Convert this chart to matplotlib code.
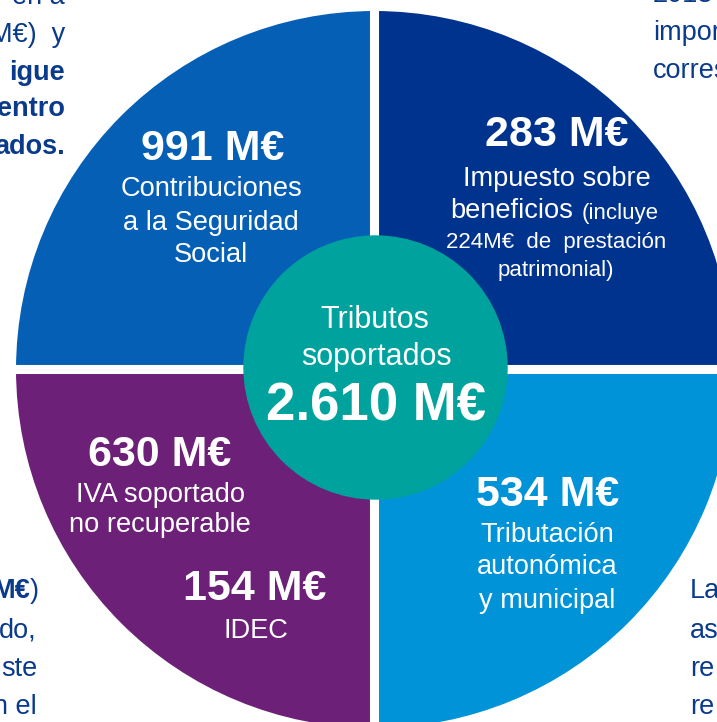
import matplotlib
matplotlib.use("Agg")
import matplotlib.pyplot as plt
from matplotlib.patches import Circle

plt.rcParams["font.family"] = ["Liberation Sans", "DejaVu Sans"]

# data: quadrant order = top-right, top-left, bottom-left, bottom-right
amounts = [283, 991, 630, 534]
idec = 154
total = 2610
concepts = [
    ["Impuesto sobre"],
    ["Contribuciones", "a la Seguridad", "Social"],
    ["IVA soportado", "no recuperable"],
    ["Tributación", "autonómica", "y municipal"],
]
colors = ["#00338D", "#0560B5", "#6C2077", "#0093D8"]
teal = "#00A29D"
navy = "#0A3A8C"

W, H = 717, 722


def eur(v):
    return f"{v:,}".replace(",", ".") + " M€"


def Y(y):
    # pixel row (top down) -> axes y (bottom up)
    return H - y


def T(y):
    # same for text, small nudge for va="center"
    return H - y - 2.5


fig = plt.figure(figsize=(W / 100, H / 100), dpi=100)
ax = fig.add_axes([0, 0, 1, 1])

cx, cy, R = 374.5, Y(369.5), 363
ax.pie([1, 1, 1, 1], colors=colors, startangle=0, counterclock=True,
       center=(cx, cy), radius=R,
       wedgeprops=dict(edgecolor="white", linewidth=6.5))
ax.add_patch(Circle((375.5, Y(367.5)), 131.5, color=teal, zorder=3))

ax.set_xlim(0, W)
ax.set_ylim(0, H)
ax.set_aspect("equal")
ax.axis("off")

big = dict(color="white", fontsize=31, fontweight="bold", ha="center", va="center", zorder=5)
mid = dict(color="white", fontsize=19.6, ha="center", va="center", zorder=5)
small = dict(color="white", fontsize=16, ha="center", va="center", zorder=5)

# top-right
ax.text(557, T(132), eur(amounts[0]), **big)
ax.text(557, T(176), concepts[0][0], **mid)
ax.text(573, T(209), "beneficios", **{**mid, "ha": "right"})
ax.text(582, T(211), "(incluye", **{**small, "ha": "left"})
ax.text(556, T(240), "224M€  de  prestación", **small)
ax.text(556, T(268), "patrimonial)", **small)

# top-left
ax.text(213, T(147), eur(amounts[1]), **big)
for y, s in zip([187, 220, 252], concepts[1]):
    ax.text(211, T(y), s, **mid)

# bottom-left
ax.text(160, T(452), eur(amounts[2]), **big)
for y, s in zip([492, 522], concepts[2]):
    ax.text(160, T(y), s, **mid)
ax.text(255, T(587), eur(idec), **big)
ax.text(256, T(628), "IDEC", **mid)

# bottom-right
ax.text(548, T(492), eur(amounts[3]), **big)
for y, s in zip([533, 565, 598], concepts[3]):
    ax.text(547, T(y), s, **mid)

# centre
ax.text(375, T(317), "Tributos", **{**mid, "fontsize": 22})
ax.text(376, T(354), "soportados", **{**mid, "fontsize": 22})
ax.text(376, T(404), eur(total), **{**big, "fontsize": 38})

# surrounding page text, cut by the figure edge
side = dict(color=navy, fontsize=19.5, va="center")
ax.text(65, T(-6), "en a", ha="right", **side)
ax.text(65, T(32), "M€)  y", ha="right", **side)
for y, s in zip([70, 107, 145], ["igue", "entro", "ados."]):
    ax.text(65, T(y), s, ha="right", fontweight="bold", **side)
ax.text(653, T(-8), "2018", ha="left", **side)
ax.text(653, T(30), "importe", ha="left", **side)
ax.text(653, T(68), "corresponde", ha="left", **side)
ax.text(30, T(588), "M€", ha="right", fontweight="bold", **side)
ax.text(30, T(588), ")", ha="left", **side)
for y, s in zip([628, 667, 705], ["do,", "ste", "n el"]):
    ax.text(37, T(y), s, ha="right", **side)
for y, s in zip([588, 628, 667, 705], ["La", "as", "re", "re"]):
    ax.text(690, T(y), s, ha="left", **side)

fig.savefig("out.png", dpi=100)
